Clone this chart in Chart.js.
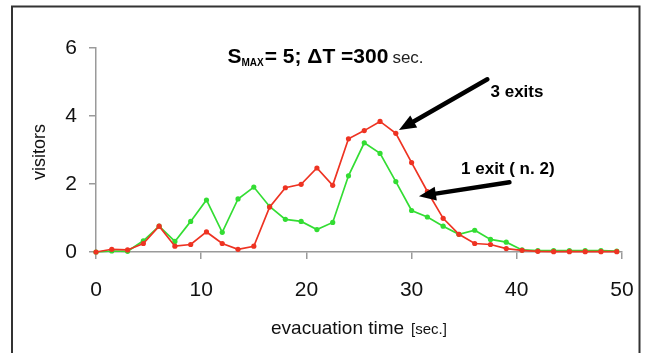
<!DOCTYPE html>
<html>
<head>
<meta charset="utf-8">
<script src="https://cdn.jsdelivr.net/npm/chart.js@4"></script>
<style>
  html, body { margin: 0; padding: 0; background: #fff; }
  #wrap { width: 649px; height: 353px; }
</style>
</head>
<body>
<div id="wrap"><canvas id="chart" width="649" height="353"></canvas></div>
<script>
// ── DATA ───────────────────────────────────────────────────────
const times = [0, 1.5, 3, 4.5, 6, 7.5, 9, 10.5, 12, 13.5, 15, 16.5, 18, 19.5, 21, 22.5, 24,
  25.5, 27, 28.5, 30, 31.5, 33, 34.5, 36, 37.5, 39, 40.5, 42, 43.5, 45, 46.5, 48, 49.5];
const threeExits = [0, 0.08, 0.06, 0.25, 0.76, 0.17, 0.22, 0.59, 0.25, 0.08, 0.17, 1.32, 1.89,
  1.99, 2.47, 1.96, 3.33, 3.57, 3.84, 3.49, 2.63, 1.78, 0.99, 0.52, 0.25, 0.22, 0.1, 0.05,
  0.02, 0.01, 0.01, 0.01, 0.01, 0.01];
const oneExit = [0, 0.03, 0.02, 0.33, 0.76, 0.31, 0.9, 1.53, 0.58, 1.56, 1.91, 1.34, 0.96,
  0.9, 0.66, 0.87, 2.24, 3.21, 2.9, 2.07, 1.22, 1.03, 0.76, 0.52, 0.64, 0.37, 0.29, 0.06,
  0.04, 0.04, 0.04, 0.04, 0.04, 0.03];
const xTicks = [0, 10, 20, 30, 40, 50];
const yTicks = [0, 2, 4, 6];

const RED = '#ee3322';
const GREEN = '#33dd33';
const AXIS = '#9a9a9a';
const FONT = "'Liberation Sans', Arial, sans-serif";
const NARROW = "'Liberation Sans Narrow', 'Arial Narrow', 'Liberation Sans', Arial, sans-serif";

// ── ANNOTATIONS (title, labels, arrows, frame) ─────────────────
function arrow(ctx, x1, y1, x2, y2) {
  const ang = Math.atan2(y2 - y1, x2 - x1);
  const headLen = 17, headW = 7;
  const bx = x2 - Math.cos(ang) * headLen, by = y2 - Math.sin(ang) * headLen;
  ctx.save();
  ctx.strokeStyle = '#000';
  ctx.fillStyle = '#000';
  ctx.lineWidth = 4.5;
  ctx.lineCap = 'round';
  ctx.beginPath(); ctx.moveTo(x1, y1); ctx.lineTo(bx, by); ctx.stroke();
  ctx.beginPath();
  ctx.moveTo(x2, y2);
  ctx.lineTo(bx + Math.sin(ang) * headW, by - Math.cos(ang) * headW);
  ctx.lineTo(bx - Math.sin(ang) * headW, by + Math.cos(ang) * headW);
  ctx.closePath(); ctx.fill();
  ctx.restore();
}

const annotPlugin = {
  id: 'annot',
  afterDraw(chart) {
    const { ctx, scales: { x, y } } = chart;
    ctx.save();

    // frame round the picture
    ctx.strokeStyle = '#333';
    ctx.lineWidth = 2;
    ctx.strokeRect(12, 6.5, 627.5, 400);

    ctx.fillStyle = '#000';
    ctx.textBaseline = 'alphabetic';
    ctx.textAlign = 'left';

    // title: S_MAX = 5; ΔT =300 sec.
    let tx = x.getPixelForValue(12.5);
    const ty = y.getPixelForValue(5.57);
    ctx.font = `bold 21px ${FONT}`;
    ctx.fillText('S', tx, ty); tx += ctx.measureText('S').width;
    ctx.font = `bold 10px ${FONT}`;
    ctx.fillText('MAX', tx, ty + 3); tx += ctx.measureText('MAX').width + 1;
    ctx.font = `bold 21px ${FONT}`;
    ctx.fillText('= 5; \u0394T =300', tx, ty); tx += ctx.measureText('= 5; \u0394T =300').width + 4;
    ctx.font = `17px ${FONT}`;
    ctx.fillStyle = '#222';
    ctx.fillText('sec.', tx, ty);

    // labels
    ctx.fillStyle = '#000';
    ctx.font = `bold 17px ${NARROW}`;
    ctx.fillText('3 exits', x.getPixelForValue(37.5), y.getPixelForValue(4.57));
    ctx.fillText('1 exit ( n. 2)', x.getPixelForValue(34.7), y.getPixelForValue(2.3));

    arrow(ctx, x.getPixelForValue(37.2), y.getPixelForValue(5.08),
      x.getPixelForValue(28.8), y.getPixelForValue(3.59));
    arrow(ctx, x.getPixelForValue(39.3), y.getPixelForValue(2.05),
      x.getPixelForValue(30.7), y.getPixelForValue(1.64));

    // axis titles
    ctx.fillStyle = '#111';
    ctx.font = `18px ${FONT}`;
    ctx.textAlign = 'center';
    ctx.save();
    ctx.translate(40, (y.top + y.bottom) / 2 + 2);
    ctx.rotate(-Math.PI / 2);
    ctx.textBaseline = 'middle';
    ctx.fillText('visitors', 0, 0);
    ctx.restore();

    ctx.textAlign = 'left';
    const main = 'evacuation time';
    ctx.font = `19px ${FONT}`;
    const w1 = ctx.measureText(main).width;
    ctx.font = `15px ${FONT}`;
    const w2 = ctx.measureText('[sec.]').width;
    let ax = (x.left + x.right) / 2 - (w1 + 7 + w2) / 2;
    ctx.font = `19px ${FONT}`;
    ctx.fillText(main, ax, 334);
    ctx.font = `15px ${FONT}`;
    ctx.fillText('[sec.]', ax + w1 + 7, 334);

    ctx.restore();
  }
};

// ── CHART ──────────────────────────────────────────────────────
const lineSet = (label, data, color, order) => ({
  label,
  data: times.map((t, i) => ({ x: t, y: data[i] })),
  borderColor: color,
  backgroundColor: color,
  borderWidth: 1.7,
  pointRadius: 2.6,
  pointBorderWidth: 0,
  pointBackgroundColor: color,
  tension: 0,
  clip: false,
  order,
});

new Chart(document.getElementById('chart'), {
  type: 'line',
  data: {
    datasets: [
      lineSet('3 exits', threeExits, RED, 0),
      lineSet('1 exit (n. 2)', oneExit, GREEN, 1),
    ],
  },
  options: {
    responsive: false,
    animation: false,
    layout: { padding: { top: 48, right: 27, bottom: 0, left: 0 } },
    plugins: { legend: { display: false }, tooltip: { enabled: false } },
    scales: {
      x: {
        type: 'linear',
        min: 0, max: 50,
        afterFit: s => { s.height = 101; s.paddingLeft = 0; s.paddingRight = 0; },
        afterBuildTicks: s => { s.ticks = xTicks.map(v => ({ value: v })); },
        border: { color: AXIS, width: 1.5 },
        grid: { drawOnChartArea: false, tickLength: 7, color: AXIS, lineWidth: 1.5 },
        ticks: { color: '#111', padding: 19, maxRotation: 0, font: { family: FONT, size: 21 } },
      },
      y: {
        min: 0, max: 6,
        afterFit: s => { s.width = 96; s.paddingTop = 0; s.paddingBottom = 0; },
        afterBuildTicks: s => { s.ticks = yTicks.map(v => ({ value: v })); },
        border: { color: AXIS, width: 1.5 },
        grid: { drawOnChartArea: false, tickLength: 7, color: AXIS, lineWidth: 1.5 },
        ticks: { color: '#111', padding: 12, font: { family: FONT, size: 21 } },
      },
    },
  },
  plugins: [annotPlugin],
});
</script>
</body>
</html>
